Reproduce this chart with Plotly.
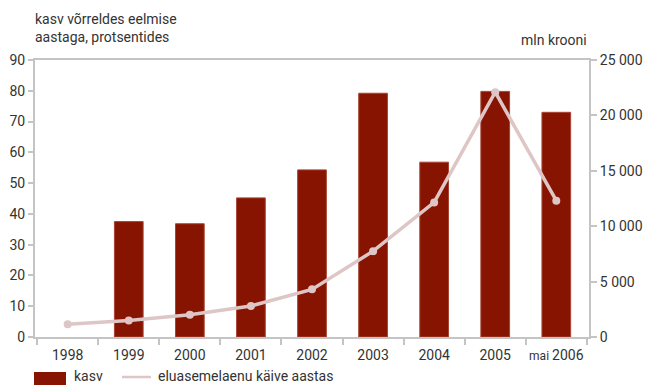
import plotly.graph_objects as go

categories = ["1998", "1999", "2000", "2001", "2002", "2003", "2004", "2005", "mai 2006"]
cat_labels = ["1998", "1999", "2000", "2001", "2002", "2003", "2004", "2005",
              "<span style='font-size:12px'>mai </span>2006"]
kasv = [None, 37.5, 36.8, 45.2, 54.3, 79.2, 56.8, 79.8, 73.0]
kaive = [1150, 1500, 2000, 2800, 4300, 7750, 12150, 22100, 12300]

left_ticks = [0, 10, 20, 30, 40, 50, 60, 70, 80, 90]
right_ticks = [0, 5000, 10000, 15000, 20000, 25000]
right_labels = ["0", "5 000", "10 000", "15 000", "20 000", "25 000"]

font_family = "Roboto, Lato, DejaVu Sans, sans-serif"
axis_col = "#c4c4c4"
txt_col = "#333333"
bar_col = "#871400"
line_col = "#dec6c6"

# page body has an 8px margin, so the figure is drawn 8px smaller and offset
OFF = 8
W, H = 651 - OFF, 385 - OFF
ML, MT = 35 - OFF, 60 - OFF
PLOT_R, PLOT_B = 589 - OFF, 337 - OFF
MR, MB = W - PLOT_R, H - PLOT_B
PW, PH = PLOT_R - ML, PLOT_B - MT


def px(xp):
    return (xp - OFF - ML) / PW


def py(yp):
    return (PLOT_B - (yp - OFF)) / PH


fig = go.Figure()
fig.add_trace(go.Bar(
    x=categories, y=kasv, name="kasv",
    marker=dict(color=bar_col, line=dict(color="#a84434", width=1)),
    width=0.47, yaxis="y", showlegend=False,
))
fig.add_trace(go.Scatter(
    x=categories, y=kaive, name="eluasemelaenu käive aastas",
    mode="lines+markers",
    line=dict(color=line_col, width=3.5),
    marker=dict(color=line_col, size=8),
    yaxis="y2", showlegend=False,
))

shapes = [
    dict(type="rect", xref="paper", yref="paper", x0=px(34), x1=px(66), y0=py(372), y1=py(386),
         fillcolor=bar_col, line=dict(width=0)),
    dict(type="line", xref="paper", yref="paper", x0=px(122), x1=px(151), y0=py(377), y1=py(377),
         line=dict(color=line_col, width=2.5)),
]

fig.update_layout(
    width=W, height=H,
    margin=dict(l=ML, r=MR, t=MT, b=MB, autoexpand=False),
    paper_bgcolor="white", plot_bgcolor="white",
    font=dict(family=font_family, size=14, color=txt_col),
    showlegend=False,
    shapes=shapes,
    xaxis=dict(
        type="category", tickmode="array", tickvals=categories, ticktext=cat_labels,
        showline=True, linecolor=axis_col, linewidth=2, mirror=True,
        ticks="outside", tickson="boundaries", ticklen=6, tickcolor=axis_col, tickwidth=2,
        showgrid=False, tickfont=dict(size=14, color=txt_col), tickangle=0,
        ticklabelstandoff=4, automargin=False,
    ),
    yaxis=dict(
        range=[0, 90], tickmode="array", tickvals=left_ticks,
        showline=True, linecolor=axis_col, linewidth=2,
        ticks="outside", ticklen=5, tickcolor=axis_col, tickwidth=2,
        showgrid=False, zeroline=False, tickfont=dict(size=14, color=txt_col),
        automargin=False,
    ),
    yaxis2=dict(
        range=[0, 25000], overlaying="y", side="right",
        tickmode="array", tickvals=right_ticks, ticktext=right_labels,
        showline=True, linecolor=axis_col, linewidth=2,
        ticks="outside", ticklen=6, tickcolor=axis_col, tickwidth=2,
        showgrid=False, zeroline=False, tickfont=dict(size=14, color=txt_col),
        automargin=False,
    ),
    annotations=[
        dict(text="kasv võrreldes eelmise<br>aastaga, protsentides", xref="paper", yref="paper",
             x=px(33), y=1.0, xanchor="left", yanchor="bottom", yshift=13, align="left",
             showarrow=False, font=dict(size=14, color=txt_col)),
        dict(text="mln krooni", xref="paper", yref="paper",
             x=1.0, y=1.0, xanchor="right", yanchor="bottom", yshift=10, align="right",
             showarrow=False, font=dict(size=14, color=txt_col)),
        dict(text="kasv", xref="paper", yref="paper", x=px(72), y=py(376),
             xanchor="left", yanchor="middle", showarrow=False,
             font=dict(size=14, color=txt_col)),
        dict(text="eluasemelaenu käive aastas", xref="paper", yref="paper", x=px(156), y=py(376),
             xanchor="left", yanchor="middle", showarrow=False,
             font=dict(size=14, color=txt_col)),
    ],
)

fig.write_html("out.html")
